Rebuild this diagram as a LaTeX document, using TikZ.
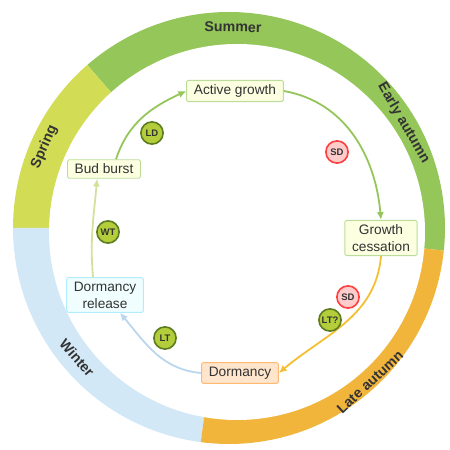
\documentclass[tikz,border=0pt]{standalone}
\usepackage{fontspec}
\setsansfont{Liberation Sans}
\usetikzlibrary{arrows.meta}

\definecolor{summergreen}{HTML}{95C65A}
\definecolor{springgreen}{HTML}{D2DD55}
\definecolor{winterblue}{HTML}{D3E8F6}
\definecolor{autumnorange}{HTML}{F2B53C}
\definecolor{labelgrey}{HTML}{333333}
\definecolor{restline}{HTML}{BBD7EE}
\definecolor{cuefill}{HTML}{B3CE3A}
\definecolor{cuerim}{HTML}{5E7D22}

\begin{document}
\begin{tikzpicture}[
    season/.style={font=\sffamily\bfseries\fontsize{13.5}{15}\selectfont, text=labelgrey},
    stage/.style={rectangle, rounded corners=0.05cm, line width=0.03cm, inner xsep=0.24cm,
      inner ysep=0.14cm, align=center, text=labelgrey, font=\sffamily\fontsize{13}{16}\selectfont},
    growbox/.style={stage, draw=green!35!olive!40, fill=green!10!yellow!12},
    restbox/.style={stage, draw=blue!25!cyan!30, fill=blue!6!cyan!6},
    dormbox/.style={stage, draw=orange!55, fill=orange!20},
    cycarrow/.style={line width=0.06cm, -{Latex[length=0.26cm,width=0.24cm]}},
    cue/.style={circle, line width=0.055cm, minimum size=0.74cm, inner sep=0pt, text=labelgrey,
      font=\sffamily\bfseries\fontsize{9}{10}\selectfont},
    cuelt/.style={cue, draw=cuerim, fill=cuefill},
    cuesd/.style={cue, draw=red!75, fill=red!20}
  ]
  \useasboundingbox (0,0) rectangle (15,15);
  \coordinate (oc) at (7.633333,7.400000);
  \coordinate (ic) at (7.900000,7.266667);

  % Drawing the season ring
  \fill [summergreen] (oc) -- ++(131:7.2) arc (131:-6:7.2) -- cycle;
  \fill [springgreen] (oc) -- ++(180:7.2) arc (180:131:7.2) -- cycle;
  \fill [winterblue] (oc) -- ++(262.5:7.2) arc (262.5:180:7.2) -- cycle;
  \fill [autumnorange] (oc) -- ++(354:7.2) arc (354:262.5:7.2) -- cycle;
  \fill [white] (ic) circle (6.266667);

  % Marking the seasons
  \node [season, rotate=-1] (summer) at (7.766667,14.100000) {Summer};
  \node [season, rotate=-60] (early) at (13.450000,10.900000) {Early autumn};
  \node [season, rotate=66] (spring) at (1.480000,10.100000) {Spring};
  \node [season, rotate=-49] (winter) at (2.566667,3.066667) {Winter};
  \node [season, rotate=43] (late) at (12.333333,2.266667) {Late autumn};

  % Marking the stages
  \node [growbox] (active) at (7.833333,11.966667) {Active growth};
  \node [growbox] (bud) at (3.466667,9.366667) {Bud burst};
  \node [growbox] (cessation) at (12.700000,7.066667) {Growth\\cessation};
  \node [restbox] (release) at (3.500000,5.166667) {Dormancy\\release};
  \node [dormbox] (dormancy) at (8.000000,2.566667) {Dormancy};

  % Drawing arc bud burst -> active growth
  \draw [cycarrow, summergreen] ([xshift=0.4cm]bud.north) to[out=72,in=205] (active.west);

  % Drawing arc active growth -> growth cessation
  \draw [cycarrow, summergreen] (active.east) to[out=-10,in=95] (cessation.north);

  % Drawing arc growth cessation -> dormancy
  \draw [cycarrow, autumnorange!85!yellow] (cessation.south) to[out=-95,in=40] (dormancy.east);

  % Drawing arc dormancy -> dormancy release
  \draw [cycarrow, restline] (dormancy.west) to[out=175,in=-50] ([xshift=0.5cm]release.south);

  % Drawing arc dormancy release -> bud burst
  \draw [cycarrow, springgreen!55!winterblue] ([xshift=-0.4cm]release.north) to[out=95,in=-95] ([xshift=-0.23cm]bud.south);

  % Marking the cues
  \node [cuelt] (ld) at (5.066667,10.566667) {LD};
  \node [cuesd] (sda) at (11.233333,9.933333) {SD};
  \node [cuelt] (wt) at (3.600000,7.266667) {WT};
  \node [cuesd] (sdb) at (11.600000,5.100000) {SD};
  \node [cuelt] (ltq) at (11.000000,4.333333) {LT?};
  \node [cuelt] (lt) at (5.500000,3.733333) {LT};
\end{tikzpicture}
\end{document}
